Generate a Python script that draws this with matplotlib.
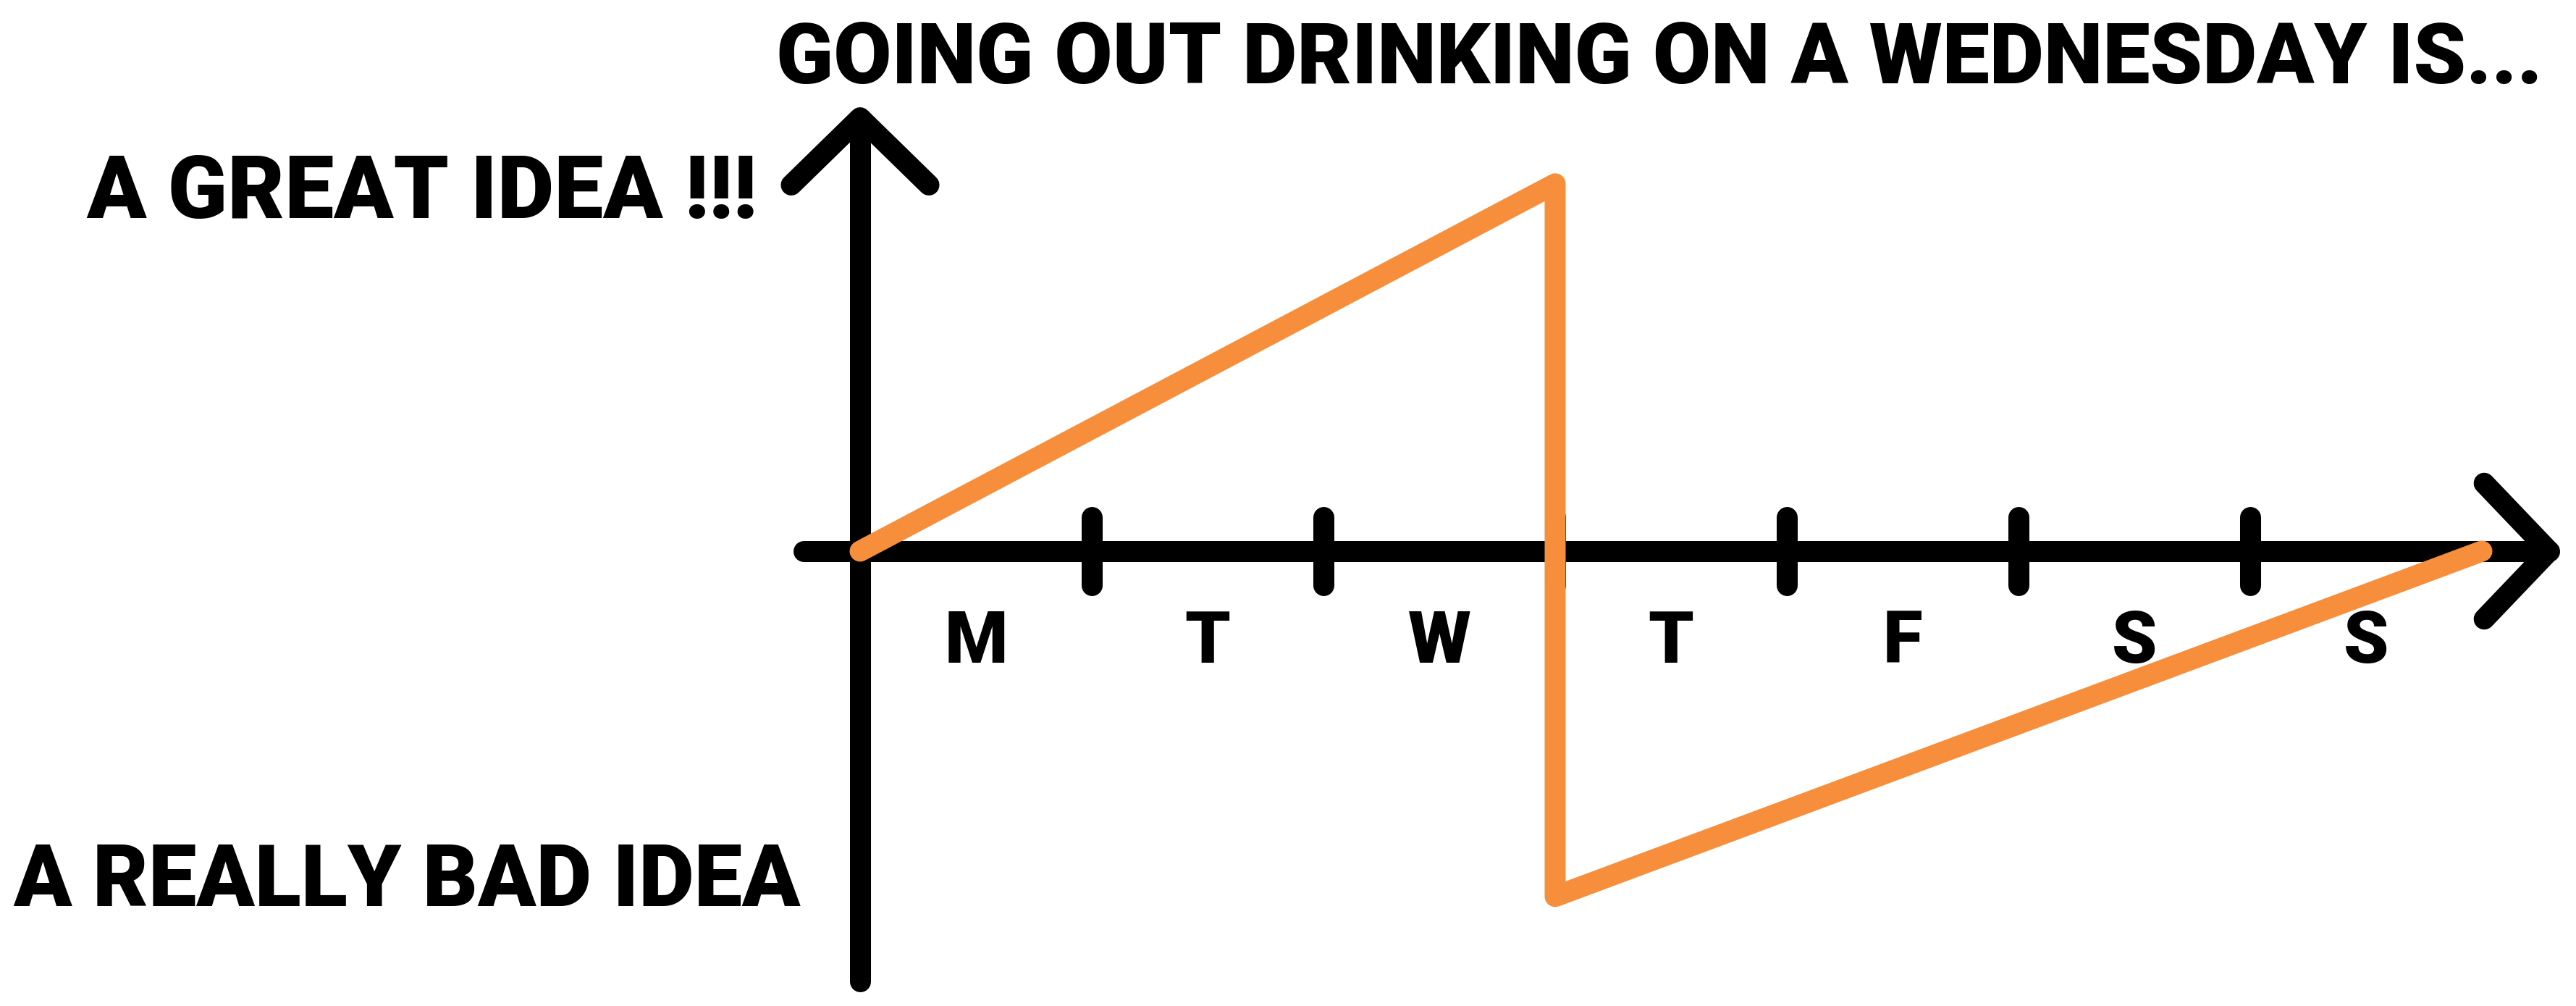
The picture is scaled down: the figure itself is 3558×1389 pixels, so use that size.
import matplotlib
matplotlib.use("Agg")
import matplotlib.pyplot as plt

# data
days = ["M", "T", "W", "T", "F", "S", "S"]
line_x = [0, 3, 3, 7]
line_y = [0, 1.585, -1.49, 0]
title = "GOING OUT DRINKING ON A WEDNESDAY IS..."
top_label = "A GREAT IDEA !!!"
bottom_label = "A REALLY BAD IDEA"

ORANGE = "#F68E3C"
LW = 20.9
DPI = 100
FONT = ["Roboto", "DejaVu Sans"]


# pixel helpers: origin of the chart sits at (1188, 761), 320 px per unit
def px_x(p):
    return (p - 1188) / 320


def px_y(p):
    return (761 - p) / 320


fig = plt.figure(figsize=(3558 / DPI, 1389 / DPI), dpi=DPI)
ax = fig.add_axes([0, 0, 1, 1])
ax.set_xlim(px_x(0), px_x(3558))
ax.set_ylim(px_y(1389), px_y(0))
ax.axis("off")

kw = dict(color="black", lw=LW, solid_capstyle="round", solid_joinstyle="round")

# y axis + arrow
ax.plot([0, 0], [-1.856, 1.87], **kw)
ax.plot([-0.297, 0, 0.297], [1.58, 1.87, 1.58], **kw)

# x axis + arrow
ax.plot([-0.245, 7.29], [0, 0], **kw)
ax.plot([7.01, 7.29, 7.01], [0.293, 0, -0.293], **kw)

# ticks between days
for i in range(1, len(days)):
    ax.plot([i, i], [-0.147, 0.147], color="black", lw=LW,
            solid_capstyle="round")

# the wednesday line
ax.plot(line_x, line_y, color=ORANGE, lw=LW, solid_capstyle="round",
        solid_joinstyle="round", zorder=5)

txt_kw = dict(fontweight="heavy", family=FONT, va="baseline")

# day labels
for i, d in enumerate(days):
    ax.text(i + 0.5, px_y(915), d, ha="center", fontsize=72, **txt_kw)

# (text, left px, right px, top px, bottom px)
labels = [
    (title, 1072, 3513, 34, 114),
    (top_label, 119, 1046, 218, 298),
    (bottom_label, 18, 1106, 1168, 1250),
]
texts = []
for s, x0, x1, y0, y1 in labels:
    t = ax.text(px_x(x0), px_y(y1), s, ha="left", fontsize=80, **txt_kw)
    texts.append(t)

# fit each label to the width it takes in the reference
fig.canvas.draw()
r = fig.canvas.get_renderer()
for t, (s, x0, x1, y0, y1) in zip(texts, labels):
    w = t.get_window_extent(r).width
    size = min(88, 80 * (x1 - x0) / w)
    t.set_fontsize(size)
    cap = 0.71 * size * DPI / 72
    t.set_position((px_x(x0), px_y((y0 + y1) / 2 + cap / 2)))

fig.savefig("out.png", dpi=DPI, facecolor="white")
